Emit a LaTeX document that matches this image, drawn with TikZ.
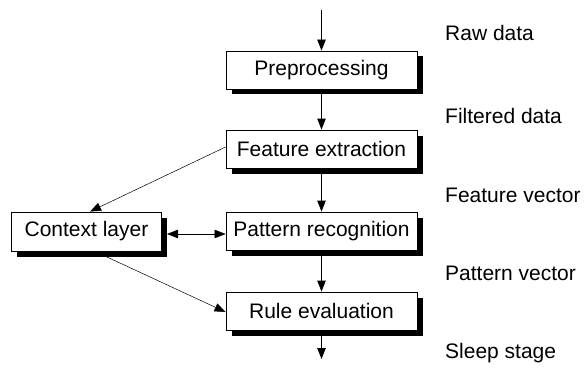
\documentclass[tikz,border=0pt]{standalone}
\usepackage{fontspec}
\setmainfont{Liberation Sans}
\usetikzlibrary{arrows.meta}
\begin{document}
\begin{tikzpicture}[x=1pt,y=-1pt,
  font=\fontsize{21}{24}\selectfont,
  stage/.style={draw=black, line width=0.9pt, fill=white, inner sep=0pt,
    minimum width=191pt, minimum height=38pt},
  boxshadow/.style={fill=black},
  flow/.style={line width=0.9pt, -{Triangle[length=11pt,width=8.5pt]}},
  side/.style={line width=0.5pt, -{Triangle[length=11pt,width=8.5pt]}},
  lbl/.style={anchor=base west, inner sep=0pt}]
\useasboundingbox (0,0) rectangle (584,369);

% solid drop shadows, drawn first so the boxes sit on top
\fill[boxshadow] (231.5,56.5) rectangle (422.5,94.5);
\fill[boxshadow] (231.5,135.5) rectangle (422.5,173.5);
\fill[boxshadow] (231.5,217.5) rectangle (422.5,255.5);
\fill[boxshadow] (231.5,297.5) rectangle (422.5,335.5);
\fill[boxshadow] (17,217.5) rectangle (167,256.5);

% processing chain
\node[stage] (pre) at (321.5,70) {Preprocessing};
\node[stage] (fe)  at (321.5,149) {Feature extraction};
\node[stage] (pr)  at (321.5,231) {Pattern recognition};
\node[stage] (re)  at (321.5,311) {Rule evaluation};
\node[stage, minimum width=150pt, minimum height=39pt] (ctx) at (86.5,231.5) {Context layer};

% open ends of the chain
\coordinate (in)  at (321.5,10);
\coordinate (out) at (321.5,359);

\draw[flow] (in) -- (pre.north);
\draw[flow] (pre.south) -- (fe.north);
\draw[flow] (fe.south) -- (pr.north);
\draw[flow] (pr.south) -- (re.north);
\draw[flow] (re.south) -- (out);

% context links
\draw[side] (fe.west |- 0,147) -- (ctx.north -| 90,0);
\draw[side] (ctx.south -| 95,0) -- (re.west |- 0,312);
\coordinate (ca) at (167,234);
\draw[line width=0.5pt, {Triangle[length=11pt,width=8.5pt]}-{Triangle[length=11pt,width=8.5pt]}]
  (ca) -- (pr.west |- ca);

% data labels
\node[lbl] (l1) at (445,41)  {Raw data};
\node[lbl] (l2) at (445,123) {Filtered data};
\node[lbl] (l3) at (445,202) {Feature vector};
\node[lbl] (l4) at (445,280) {Pattern vector};
\node[lbl] (l5) at (445,358) {Sleep stage};
\end{tikzpicture}
\end{document}
